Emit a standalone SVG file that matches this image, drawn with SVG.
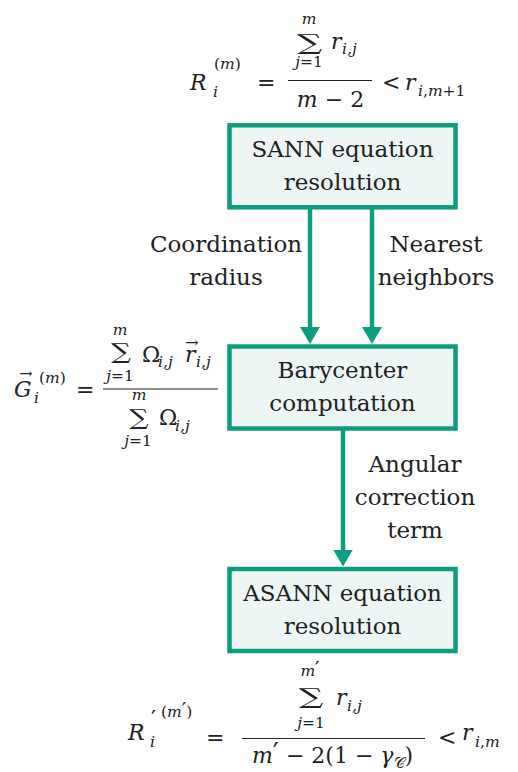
<svg xmlns="http://www.w3.org/2000/svg" width="518" height="772" viewBox="0 0 518 772">
<style>
.bg{fill:#ffffff}
.box{fill:#EEF6F5;stroke:#0E9C7E;stroke-width:4.5}
.conn{stroke:#0E9C7E;stroke-width:4.5;fill:none}
.t{font-family:"DejaVu Serif",serif;font-size:23px;fill:#222;text-anchor:middle}
.m{font-family:"DejaVu Serif",serif;fill:#222;font-size:22px}
.i{font-style:italic}
.s{font-size:15.5px}
.c{text-anchor:middle}
.bar{stroke:#222;stroke-width:1.1}
.vec{font-size:16px}
.pr{font-size:20px}
</style>
<defs>
<marker id="ah" markerUnits="userSpaceOnUse" markerWidth="17" markerHeight="20" viewBox="0 0 17 20" refX="3" refY="10" orient="auto">
<path d="M0,0 L17,10 L0,20 z" fill="#0E9C7E"/>
</marker>
</defs>
<rect class="bg" x="0" y="0" width="518" height="772"/>

<g id="connectors">
<line class="conn" x1="310" y1="209" x2="310" y2="330" marker-end="url(#ah)"/>
<line class="conn" x1="372" y1="209" x2="372" y2="330" marker-end="url(#ah)"/>
<line class="conn" x1="343" y1="430" x2="343" y2="552.5" marker-end="url(#ah)"/>
<text class="t" x="226" y="252">Coordination</text>
<text class="t" x="226" y="285">radius</text>
<text class="t" x="436" y="252">Nearest</text>
<text class="t" x="436" y="285">neighbors</text>
<text class="t" x="415" y="472">Angular</text>
<text class="t" x="415" y="505">correction</text>
<text class="t" x="415" y="538">term</text>
</g>

<g id="sann">
<rect class="box" x="229.5" y="125.3" width="226" height="82"/>
<text class="t" x="342.5" y="156.7">SANN equation</text>
<text class="t" x="342.5" y="190">resolution</text>
</g>

<g id="barycenter">
<rect class="box" x="229.5" y="346.5" width="226" height="82"/>
<text class="t" x="342.5" y="378">Barycenter</text>
<text class="t" x="342.5" y="411">computation</text>
</g>

<g id="asann">
<rect class="box" x="229.5" y="569" width="226" height="82"/>
<text class="t" x="342.5" y="600.5">ASANN equation</text>
<text class="t" x="342.5" y="634">resolution</text>
</g>

<g id="eq-sann">
<text class="m i" x="190" y="90" font-size="24">R</text>
<text class="m s" x="214" y="69">(<tspan class="i">m</tspan>)</text>
<text class="m s i" x="213" y="97">i</text>
<text class="m" x="257" y="90">=</text>
<line class="bar" x1="288" y1="80.5" x2="372" y2="80.5"/>
<text class="m s i c" x="309" y="24">m</text>
<text class="m c" font-size="26" transform="translate(309.5,50) scale(1.6,1)">∑</text>
<text class="m s c" x="309" y="67"><tspan class="i">j</tspan>=1</text>
<text class="m i" x="331" y="49">r</text>
<text class="m s i" x="342" y="54">i,j</text>
<text class="m c" x="330.5" y="107"><tspan class="i">m</tspan> − 2</text>
<text class="m" x="382" y="90">&lt;</text>
<text class="m i" x="405" y="90">r</text>
<text class="m s" x="418" y="96" font-size="16.5"><tspan class="i">i</tspan>,<tspan class="i">m</tspan>+1</text>
</g>

<g id="eq-barycenter">
<text class="m vec c" x="26" y="379">→</text>
<text class="m i" x="14" y="397" font-size="23">G</text>
<text class="m s" x="39" y="383">(<tspan class="i">m</tspan>)</text>
<text class="m s i" x="34" y="403">i</text>
<text class="m" x="76" y="397">=</text>
<line class="bar" x1="103" y1="389" x2="218" y2="389"/>
<text class="m s i c" x="120" y="335">m</text>
<text class="m c" font-size="27" transform="translate(121,359) scale(1.27,1)">∑</text>
<text class="m s c" x="120" y="381"><tspan class="i">j</tspan>=1</text>
<text class="m" x="142" y="362">Ω</text>
<text class="m s i" x="158" y="367">i,j</text>
<text class="m vec c" x="192" y="348" font-size="13">→</text>
<text class="m i" x="185" y="362">r</text>
<text class="m s i" x="196" y="367">i,j</text>
<text class="m s i c" x="139" y="400">m</text>
<text class="m c" font-size="28" transform="translate(139,425) scale(1.23,1)">∑</text>
<text class="m s c" x="138" y="446"><tspan class="i">j</tspan>=1</text>
<text class="m" x="159" y="425">Ω</text>
<text class="m s i" x="175" y="431">i,j</text>
</g>

<g id="eq-asann">
<text class="m i" x="128" y="740" font-size="24">R</text>
<text class="m" x="151" y="726" font-size="26">′</text>
<text class="m s" x="161" y="717">(<tspan class="i">m</tspan><tspan class="pr">′</tspan>)</text>
<text class="m s i" x="150" y="747">i</text>
<text class="m" x="206" y="745">=</text>
<line class="bar" x1="242" y1="738.5" x2="425" y2="738.5"/>
<text class="m s c" x="310" y="676"><tspan class="i">m</tspan><tspan class="pr">′</tspan></text>
<text class="m c" font-size="28" transform="translate(311,704) scale(1.56,1)">∑</text>
<text class="m s c" x="311" y="728"><tspan class="i">j</tspan>=1</text>
<text class="m i" x="336" y="705">r</text>
<text class="m s i" x="347" y="711">i,j</text>
<text class="m c" x="332.5" y="763"><tspan class="i">m</tspan><tspan font-size="27">′</tspan> − 2(1 − <tspan class="i">γ</tspan><tspan font-size="15" dy="5">𝒞</tspan><tspan dy="-5">)</tspan></text>
<text class="m" x="438" y="745">&lt;</text>
<text class="m i" x="462" y="740">r</text>
<text class="m s" x="475" y="747"><tspan class="i">i</tspan>,<tspan class="i">m</tspan></text>
</g>
</svg>
